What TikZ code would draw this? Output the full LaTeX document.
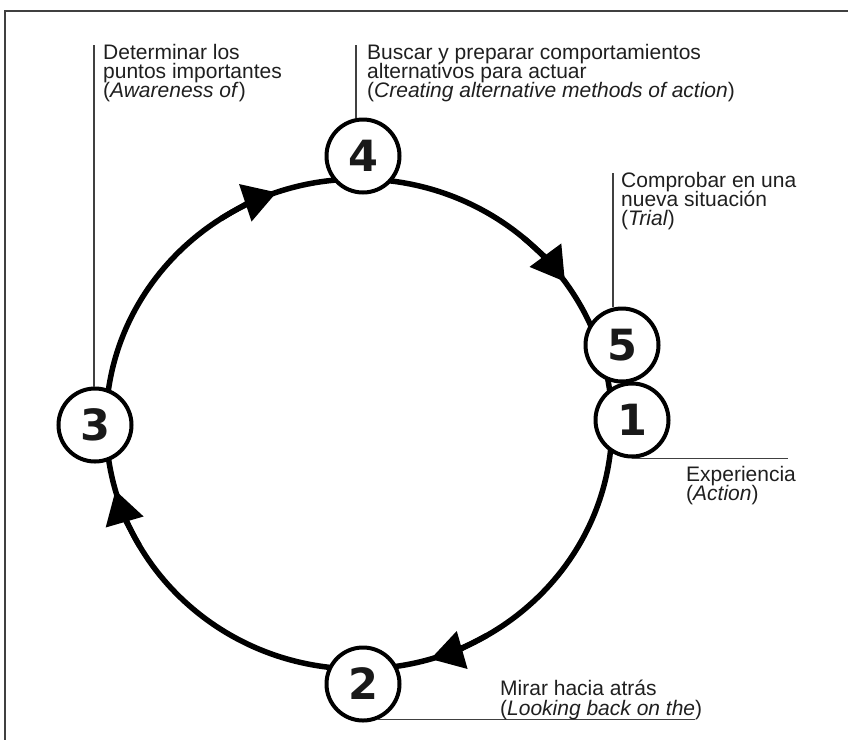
\documentclass[tikz,border=0pt]{standalone}
\usepackage{fontspec}
\setmainfont{Liberation Sans}
\newfontfamily\digitfont{DejaVu Sans}
\usetikzlibrary{arrows.meta}
\setlength{\lineskiplimit}{-100pt}

\begin{document}
\begin{tikzpicture}[x=1pt,y=-1pt,
  frame/.style={line width=2.5pt, black!75},
  ring/.style={line width=5.5pt, black},
  flow/.style={line width=5.5pt, black, -{Triangle[length=33pt,width=38pt]}},
  stage/.style={circle, draw=black, line width=4pt, fill=white, minimum size=73pt,
    inner sep=0pt, text=black!90, font=\digitfont\bfseries\fontsize{43}{43}\selectfont},
  leader/.style={line width=1.1pt, black!75},
  note/.style={anchor=north west, align=left, inner sep=0pt, text=black!88,
    font=\fontsize{21}{19}\selectfont},
]
\useasboundingbox (0,0) rectangle (848,740);

% page frame
\draw[frame] (848,11) -- (5,11) -- (5,740);

% the cycle
\coordinate (c) at (359,424);
\draw[ring] (c) ellipse [x radius=253, y radius=245];

% direction marks on the cycle (clockwise)
\foreach \t in {251, 324.5, 73.6, 164.3}{
  \draw[flow] (c) ++(\t-14:253 and 245)
    arc[start angle=\t-14, end angle=\t, x radius=253, y radius=245];
}

% leader ends
\coordinate (t3) at (94,45);
\coordinate (t4) at (356,45);
\coordinate (t5) at (613,173);
\coordinate (e1) at (788,458);
\coordinate (e2) at (695,719);

% stages
\node[stage] (n4) at (363,156) {4};
\node[stage] (n3) at (95,425) {3};
\node[stage] (n2) at (363,684) {2};
\node[stage] (n5) at (622,345) {5};
\node[stage] (n1) at (632,420) {1};

% leaders from the labels to the stages
\draw[leader] (t3) -- (t3 |- n3.north);
\draw[leader] (t4) -- (t4 |- n4.north);
\draw[leader] (t5) -- (t5 |- n5.north);
\draw[leader] (n1.south) -- (n1.south -| e1);
\draw[leader] (n2.-68) -- (n2.-68 -| e2);

% labels
\node[note] (l3) at (103,44.2) {Determinar los\\puntos importantes\\(\textit{Awareness of})};
\node[note] (l4) at (367,44) {Buscar y preparar comportamientos\\alternativos para actuar\\(\textit{Creating alternative methods of action})};
\node[note] (l5) at (621,172.2) {Comprobar en una\\nueva situación\\(\textit{Trial})};
\node[note] (l1) at (686,466.2) {Experiencia\\(\textit{Action})};
\node[note, font=\fontsize{21}{20}\selectfont] (l2) at (500,679.5) {Mirar hacia atrás\\(\textit{Looking back on the})};
\end{tikzpicture}
\end{document}
